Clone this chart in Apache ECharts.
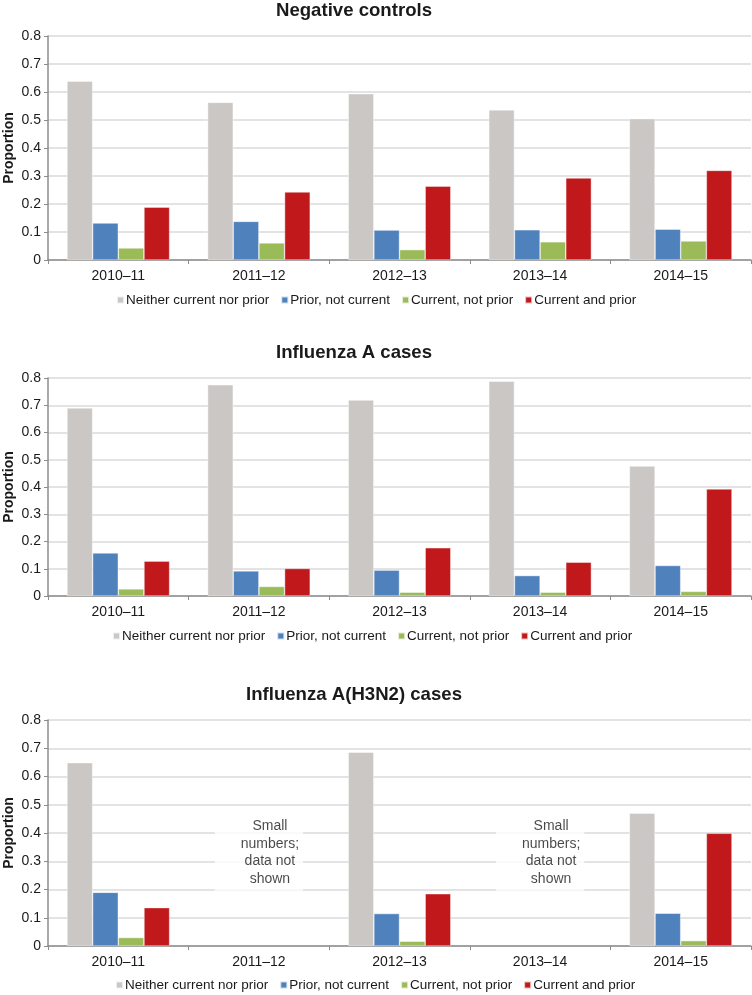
<!DOCTYPE html>
<html>
<head>
<meta charset="utf-8">
<script src="https://cdn.jsdelivr.net/npm/echarts@6/dist/echarts.min.js"></script>
<style>
html,body{margin:0;padding:0;background:#fff;}
#chart{width:752px;height:995px;}
</style>
</head>
<body>
<div id="chart"></div>
<script>
// ---- Data ----
const categories = ['2010–11', '2011–12', '2012–13', '2013–14', '2014–15'];
const seriesNames = ['Neither current nor prior', 'Prior, not current', 'Current, not prior', 'Current and prior'];
const panelTitles = ['Negative controls', 'Influenza A cases', 'Influenza A(H3N2) cases'];
const yTicks = [0, 0.1, 0.2, 0.3, 0.4, 0.5, 0.6, 0.7, 0.8];

// Negative controls
const negNeither = [0.639, 0.563, 0.594, 0.536, 0.505];
const negPrior   = [0.132, 0.138, 0.107, 0.108, 0.110];
const negCurrent = [0.043, 0.061, 0.037, 0.065, 0.068];
const negBoth    = [0.189, 0.243, 0.264, 0.293, 0.320];

// Influenza A cases
const fluNeither = [0.690, 0.775, 0.719, 0.788, 0.477];
const fluPrior   = [0.158, 0.092, 0.095, 0.075, 0.112];
const fluCurrent = [0.026, 0.035, 0.014, 0.014, 0.017];
const fluBoth    = [0.128, 0.101, 0.177, 0.124, 0.393];

// Influenza A(H3N2) cases (null = small numbers; data not shown)
const h3Neither = [0.649, null, 0.686, null, 0.470];
const h3Prior   = [0.190, null, 0.115, null, 0.116];
const h3Current = [0.030, null, 0.017, null, 0.019];
const h3Both    = [0.136, null, 0.185, null, 0.399];

const noteText = 'Small\nnumbers;\ndata not\nshown';
const noteCategories = ['2011–12', '2013–14'];
const noteValue = 0.33;

// ---- Styling ----
const colors = ['#CAC7C5', '#4F81BD', '#9BBB59', '#C0181B'];
const FONT = '"Liberation Sans", Arial, sans-serif';

const panels = [
  [negNeither, negPrior, negCurrent, negBoth],
  [fluNeither, fluPrior, fluCurrent, fluBoth],
  [h3Neither, h3Prior, h3Current, h3Both]
];

const grids = [
  {left: 48, right: 1, top: 36, height: 224, outerBoundsMode: 'none', containLabel: false},
  {left: 48, right: 1, top: 378, height: 218, outerBoundsMode: 'none', containLabel: false},
  {left: 48, right: 1, top: 720, height: 226, outerBoundsMode: 'none', containLabel: false}
];
const titleTops = [1, 343, 685];
const legendTops = [293, 629, 978];
const legendLefts = [116, 112, 115];

const option = {
  backgroundColor: '#fff',
  animation: false,
  color: colors,
  textStyle: {fontFamily: FONT},
  title: panelTitles.map((t, i) => ({
    text: t,
    left: 354,
    textAlign: 'center',
    top: titleTops[i],
    padding: 0,
    textStyle: {fontFamily: FONT, fontSize: 18.6, fontWeight: 'bold', color: '#1a1a1a'}
  })),
  legend: legendTops.map((top, i) => ({
    data: seriesNames,
    top: top,
    left: legendLefts[i],
    icon: 'rect',
    itemWidth: 7,
    itemHeight: 7,
    itemGap: 11,
    padding: 0,
    selectedMode: false,
    textStyle: {fontFamily: FONT, fontSize: 13.5, color: '#1a1a1a', padding: [0, 0, 0, -3]}
  })),
  grid: grids,
  xAxis: grids.map((g, i) => ({
    type: 'category',
    gridIndex: i,
    data: categories,
    axisLine: {lineStyle: {color: '#8C8C8C', width: 1.5}},
    axisTick: {show: true, alignWithLabel: false, length: 4, lineStyle: {color: '#8C8C8C', width: 1}},
    axisLabel: {fontFamily: FONT, fontSize: 14, color: '#1a1a1a', margin: 9}
  })),
  yAxis: grids.map((g, i) => ({
    type: 'value',
    gridIndex: i,
    min: 0,
    max: 0.8,
    interval: 0.1,
    name: 'Proportion',
    nameLocation: 'middle',
    nameGap: 32,
    nameMoveOverlap: false,
    nameTextStyle: {fontFamily: FONT, fontSize: 14, fontWeight: 'bold', color: '#1a1a1a'},
    axisLine: {show: true, lineStyle: {color: '#8C8C8C', width: 1.5}},
    axisTick: {show: true, length: 4, lineStyle: {color: '#8C8C8C'}},
    axisLabel: {
      fontFamily: FONT, fontSize: 14, color: '#1a1a1a', margin: 7,
      formatter: v => (v === 0 ? '0' : v.toFixed(1))
    },
    splitLine: {lineStyle: {color: '#DADADA', width: 1.5}}
  })),
  series: []
};

panels.forEach((panel, pi) => {
  panel.forEach((vals, si) => {
    option.series.push({
      type: 'bar',
      name: seriesNames[si],
      xAxisIndex: pi,
      yAxisIndex: pi,
      data: vals.map(v => (v === null ? '-' : v)),
      barGap: '0%',
      barCategoryGap: '27%',
      itemStyle: {color: colors[si], borderColor: 'rgba(255,255,255,0.7)', borderWidth: 0.6},
      emphasis: {disabled: true}
    });
  });
});

// "Small numbers; data not shown" notes, placed via the axes of panel 3
option.series.push({
  type: 'scatter',
  name: 'note',
  xAxisIndex: 2,
  yAxisIndex: 2,
  symbolSize: 0,
  silent: true,
  z: 5,
  data: noteCategories.map(c => [c, noteValue]),
  label: {
    show: true,
    position: 'inside',
    formatter: noteText,
    fontFamily: FONT,
    fontSize: 14,
    lineHeight: 17.5,
    color: '#1a1a1a',
    align: 'center',
    backgroundColor: '#fff',
    padding: [3, 4, 3, 26]
  }
});

const chart = echarts.init(document.getElementById('chart'), null, {renderer: 'canvas'});
chart.setOption(option);
</script>
</body>
</html>
